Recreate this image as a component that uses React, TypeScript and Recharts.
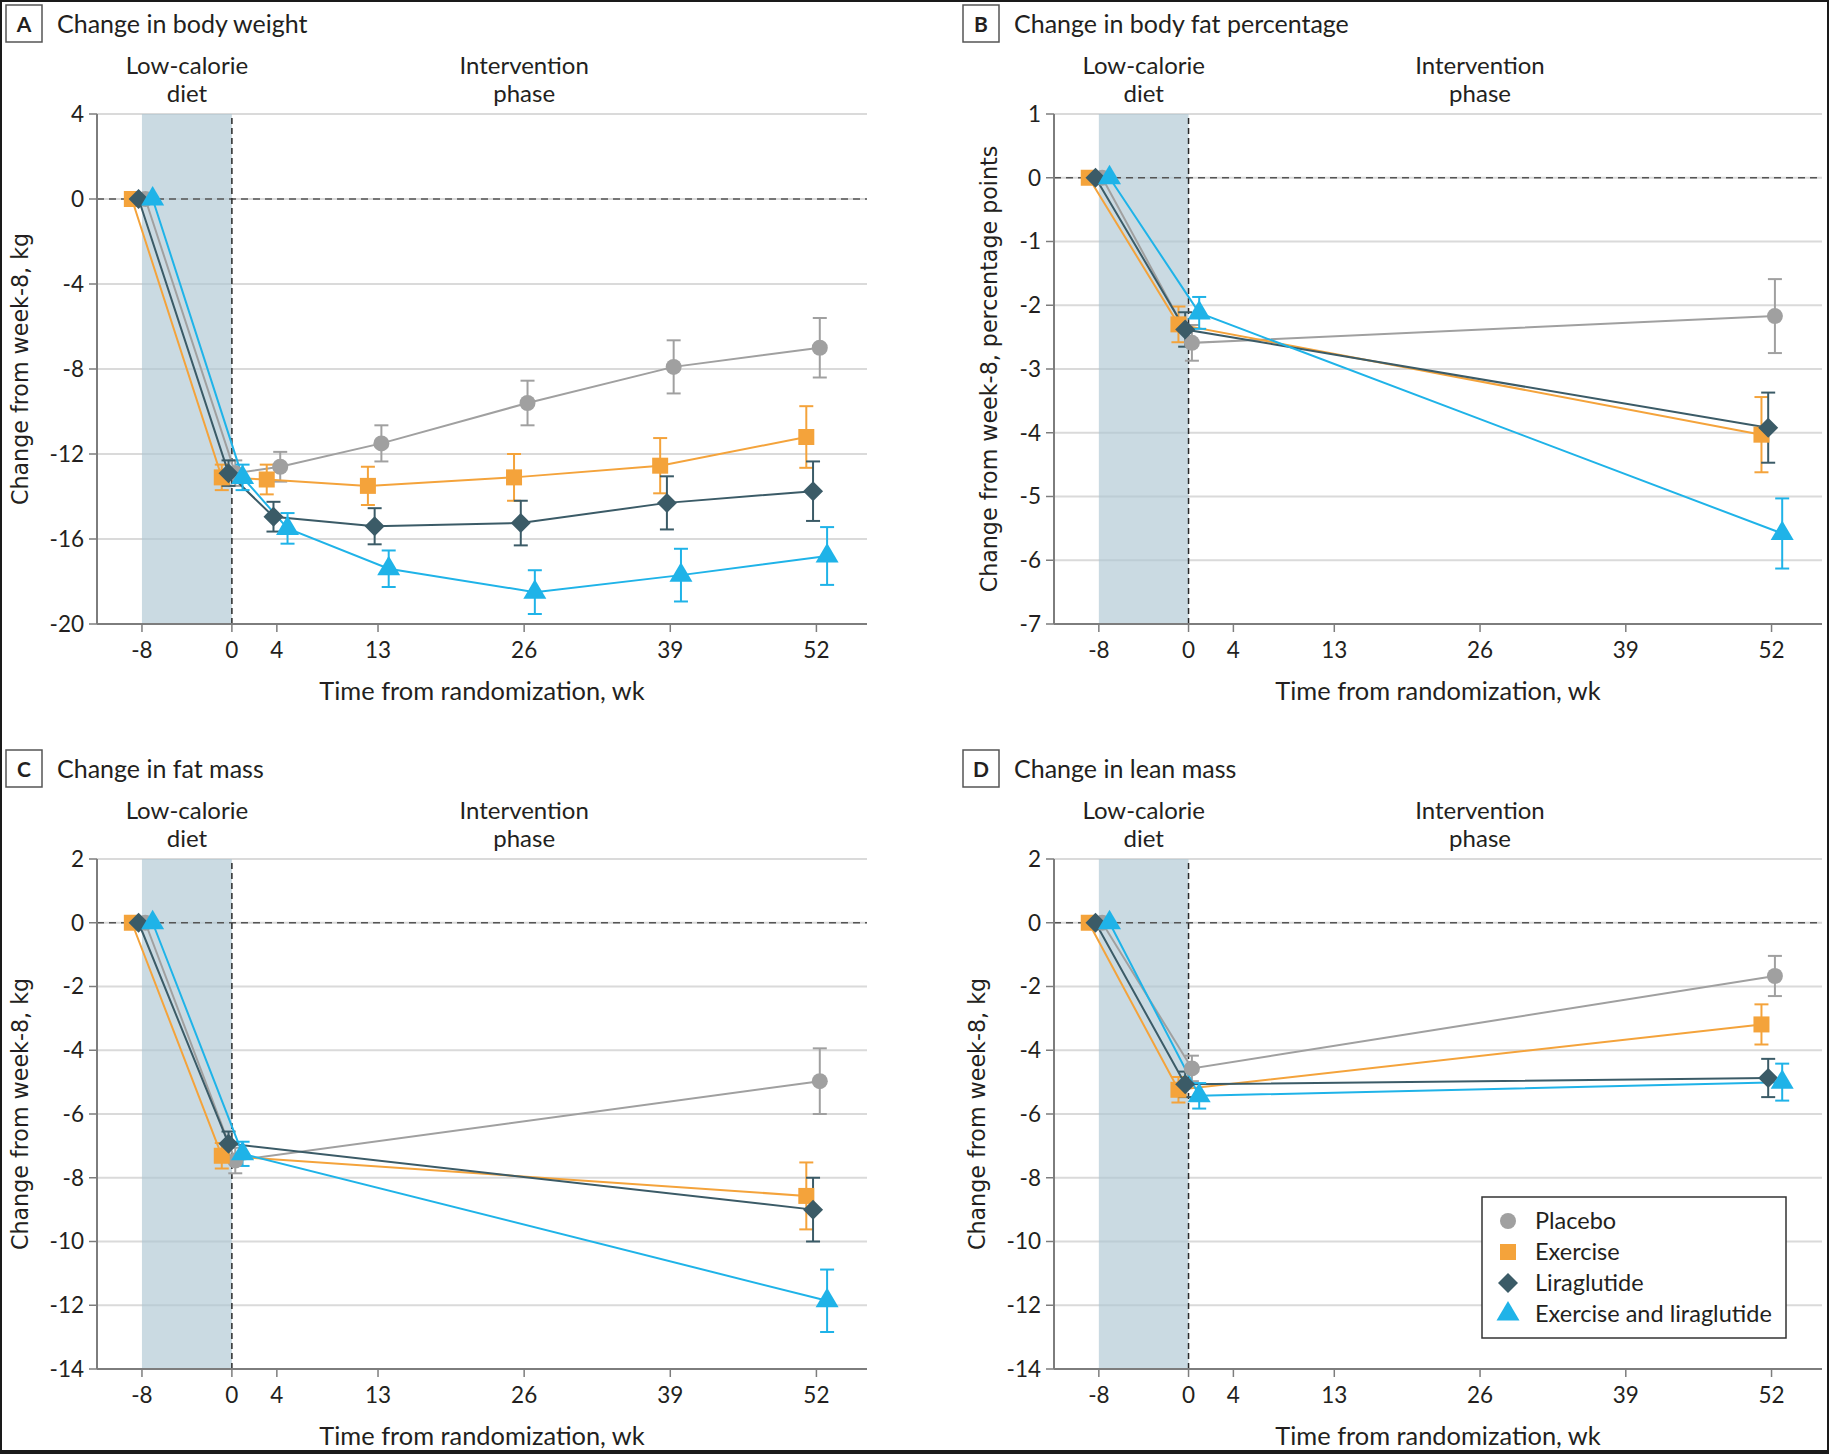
import React from "react";
import {
  LineChart,
  Line,
  XAxis,
  YAxis,
  CartesianGrid,
  ReferenceArea,
  ReferenceLine,
  ErrorBar,
  Label,
} from "recharts";

// weeks measured in each panel
const weeksA = [-8, 0, 4, 13, 26, 39, 52];
const weeksOther = [-8, 0, 52];
const xTicks = [-8, 0, 4, 13, 26, 39, 52];

// A: change in body weight, kg
const weightPlacebo = [0, -12.9, -12.6, -11.5, -9.6, -7.9, -7.0];
const weightPlaceboErr = [0, 0.6, 0.7, 0.85, 1.05, 1.25, 1.4];
const weightExercise = [0, -13.1, -13.2, -13.5, -13.1, -12.55, -11.2];
const weightExerciseErr = [0, 0.6, 0.7, 0.9, 1.1, 1.3, 1.45];
const weightLira = [0, -12.9, -14.95, -15.4, -15.25, -14.3, -13.75];
const weightLiraErr = [0, 0.6, 0.7, 0.85, 1.05, 1.25, 1.4];
const weightCombo = [0, -13.1, -15.5, -17.4, -18.5, -17.7, -16.8];
const weightComboErr = [0, 0.6, 0.72, 0.86, 1.03, 1.24, 1.36];

// B: change in body fat percentage, percentage points
const fatPctPlacebo = [0, -2.59, -2.17];
const fatPctPlaceboErr = [0, 0.28, 0.58];
const fatPctExercise = [0, -2.3, -4.03];
const fatPctExerciseErr = [0, 0.28, 0.59];
const fatPctLira = [0, -2.38, -3.92];
const fatPctLiraErr = [0, 0.27, 0.55];
const fatPctCombo = [0, -2.12, -5.58];
const fatPctComboErr = [0, 0.25, 0.55];

// C: change in fat mass, kg
const fatMassPlacebo = [0, -7.46, -4.97];
const fatMassPlaceboErr = [0, 0.4, 1.03];
const fatMassExercise = [0, -7.31, -8.57];
const fatMassExerciseErr = [0, 0.4, 1.05];
const fatMassLira = [0, -6.93, -9.0];
const fatMassLiraErr = [0, 0.38, 1.0];
const fatMassCombo = [0, -7.25, -11.86];
const fatMassComboErr = [0, 0.38, 0.98];

// D: change in lean mass, kg
const leanPlacebo = [0, -4.57, -1.67];
const leanPlaceboErr = [0, 0.4, 0.63];
const leanExercise = [0, -5.24, -3.19];
const leanExerciseErr = [0, 0.4, 0.63];
const leanLira = [0, -5.07, -4.87];
const leanLiraErr = [0, 0.4, 0.6];
const leanCombo = [0, -5.43, -5.0];
const leanComboErr = [0, 0.4, 0.58];

const SERIES = [
  { key: "placebo", name: "Placebo", color: "#a0a0a0", shape: "circle", dodge: 0.3 },
  { key: "exercise", name: "Exercise", color: "#f4a33b", shape: "square", dodge: -0.9 },
  { key: "lira", name: "Liraglutide", color: "#3b5b67", shape: "diamond", dodge: -0.3 },
  { key: "combo", name: "Exercise and liraglutide", color: "#1fb3e8", shape: "triangle", dodge: 0.95 },
];

const FONT = "Lato, 'Liberation Sans', sans-serif";
const TEXT = "#231f20";
const AXIS = "#7d7d7d";

function Marker({ cx, cy, shape, color }: any) {
  if (cx == null || cy == null) return null;
  if (shape === "circle") return <circle cx={cx} cy={cy} r={8} fill={color} />;
  if (shape === "square")
    return <rect x={cx - 8} y={cy - 8} width={16} height={16} fill={color} />;
  if (shape === "diamond")
    return (
      <polygon
        points={`${cx},${cy - 10} ${cx + 10},${cy} ${cx},${cy + 10} ${cx - 10},${cy}`}
        fill={color}
      />
    );
  return (
    <polygon
      points={`${cx},${cy - 13} ${cx + 11.5},${cy + 6.5} ${cx - 11.5},${cy + 6.5}`}
      fill={color}
    />
  );
}

interface PanelProps {
  letter: string;
  title: string;
  yLabel: string;
  yLabelX: number;
  yDomain: [number, number];
  yTicks: number[];
  weeks: number[];
  values: Record<string, number[]>;
  errs: Record<string, number[]>;
  left: number;
  top: number;
  width: number;
  height: number;
  legend?: boolean;
}

const Panel = (p: PanelProps) => {
  const plotTop = 114;
  const plotBottom = 624;
  const plotLeft = 97;
  const plotRight = p.width === 957 ? 867 : 865;
  const xAxisH = 60;
  const yAxisW = 80;
  const margin = {
    top: plotTop,
    left: plotLeft - yAxisW,
    right: p.width - plotRight,
    bottom: p.height - plotBottom - xAxisH,
  };

  return (
    <div
      style={{ position: "absolute", left: p.left, top: p.top, width: p.width, height: p.height }}
    >
      <LineChart width={p.width} height={p.height} margin={margin}>
        <CartesianGrid vertical={false} stroke="#dadada" strokeWidth={2} />
        <ReferenceArea x1={-8} x2={0} fill="#adc6d3" fillOpacity={0.65} stroke="none">
          <Label value="Low-calorie" position="top" offset={40} fontSize={24} fill={TEXT} />
          <Label value="diet" position="top" offset={12} fontSize={24} fill={TEXT} />
        </ReferenceArea>
        <ReferenceArea x1={13} x2={39} fillOpacity={0} stroke="none">
          <Label value="Intervention" position="top" offset={40} fontSize={24} fill={TEXT} />
          <Label value="phase" position="top" offset={12} fontSize={24} fill={TEXT} />
        </ReferenceArea>
        <ReferenceLine y={0} stroke="#555" strokeWidth={1.5} strokeDasharray="7 5" />
        <ReferenceLine x={0} stroke="#2a2a2a" strokeWidth={1.5} strokeDasharray="6 4" />
        <XAxis
          type="number"
          dataKey="x"
          domain={[-12, 56.5]}
          ticks={xTicks}
          interval={0}
          height={xAxisH}
          tickSize={8}
          tickMargin={10}
          axisLine={{ stroke: AXIS, strokeWidth: 2 }}
          tickLine={{ stroke: AXIS, strokeWidth: 1.5 }}
          tick={{ fontSize: 22.5, fill: TEXT }}
        >
          <Label
            value="Time from randomization, wk"
            position="insideBottom"
            offset={-16}
            fontSize={25.4}
            fill={TEXT}
          />
        </XAxis>
        <YAxis
          type="number"
          domain={p.yDomain}
          ticks={p.yTicks}
          interval={0}
          width={yAxisW}
          tickSize={8}
          tickMargin={5}
          axisLine={{ stroke: AXIS, strokeWidth: 2 }}
          tickLine={{ stroke: AXIS, strokeWidth: 1.5 }}
          tick={{ fontSize: 22.5, fill: TEXT }}
        />
        {SERIES.map((s) => {
          const rows = p.weeks.map((w, i) => ({
            x: w + s.dodge,
            y: p.values[s.key][i],
            e: p.errs[s.key][i],
          }));
          return (
            <Line
              key={s.key}
              data={rows}
              dataKey="y"
              name={s.name}
              type="linear"
              stroke={s.color}
              strokeWidth={2}
              activeDot={false}
              isAnimationActive={false}
              dot={(d: any) => (
                <Marker
                  key={`${s.key}-${d.index}`}
                  cx={d.cx}
                  cy={d.cy}
                  shape={s.shape}
                  color={s.color}
                />
              )}
            >
              <ErrorBar
                dataKey="e"
                direction="y"
                width={7}
                strokeWidth={2}
                stroke={s.color}
                isAnimationActive={false}
              />
            </Line>
          );
        })}
      </LineChart>

      <svg
        width={p.width}
        height={p.height}
        style={{ position: "absolute", left: 0, top: 0, pointerEvents: "none", overflow: "visible" }}
      >
        <rect x={6} y={5} width={36} height={37} fill="#fff" stroke="#555" strokeWidth={1.5} />
        <text x={24} y={32} textAnchor="middle" fontSize={21} fontWeight={700} fill={TEXT}>
          {p.letter}
        </text>
        <text x={57} y={33} fontSize={25} fill={TEXT}>
          {p.title}
        </text>
        <text
          x={p.yLabelX}
          y={(plotTop + plotBottom) / 2}
          transform={`rotate(-90 ${p.yLabelX} ${(plotTop + plotBottom) / 2})`}
          textAnchor="middle"
          dominantBaseline="central"
          fontFamily="'DejaVu Sans', sans-serif"
          fontSize={22.2}
          fill={TEXT}
        >
          {p.yLabel}
        </text>
        {p.legend && (
          <g>
            <rect x={525} y={452} width={304} height={141} fill="#fff" stroke="#333" strokeWidth={1.5} />
            {SERIES.map((s, i) => {
              const cy = 476 + i * 31;
              return (
                <g key={s.key}>
                  <Marker cx={551} cy={cy} shape={s.shape} color={s.color} />
                  <text x={578} y={cy + 8} fontSize={23.5} fill={TEXT}>
                    {s.name}
                  </text>
                </g>
              );
            })}
          </g>
        )}
      </svg>
    </div>
  );
};

const App = () => {
  return (
    <div
      style={{
        position: "absolute",
        left: 0,
        top: 0,
        width: 1829,
        height: 1454,
        background: "#fff",
        fontFamily: FONT,
        overflow: "hidden",
      }}
    >
      <Panel
        letter="A"
        title="Change in body weight"
        yLabel="Change from week-8, kg"
        yLabelX={20}
        yDomain={[-20, 4]}
        yTicks={[-20, -16, -12, -8, -4, 0, 4]}
        weeks={weeksA}
        values={{ placebo: weightPlacebo, exercise: weightExercise, lira: weightLira, combo: weightCombo }}
        errs={{ placebo: weightPlaceboErr, exercise: weightExerciseErr, lira: weightLiraErr, combo: weightComboErr }}
        left={0}
        top={0}
        width={957}
        height={745}
      />
      <Panel
        letter="B"
        title="Change in body fat percentage"
        yLabel="Change from week-8, percentage points"
        yLabelX={32}
        yDomain={[-7, 1]}
        yTicks={[-7, -6, -5, -4, -3, -2, -1, 0, 1]}
        weeks={weeksOther}
        values={{ placebo: fatPctPlacebo, exercise: fatPctExercise, lira: fatPctLira, combo: fatPctCombo }}
        errs={{ placebo: fatPctPlaceboErr, exercise: fatPctExerciseErr, lira: fatPctLiraErr, combo: fatPctComboErr }}
        left={957}
        top={0}
        width={872}
        height={745}
      />
      <Panel
        letter="C"
        title="Change in fat mass"
        yLabel="Change from week-8, kg"
        yLabelX={20}
        yDomain={[-14, 2]}
        yTicks={[-14, -12, -10, -8, -6, -4, -2, 0, 2]}
        weeks={weeksOther}
        values={{ placebo: fatMassPlacebo, exercise: fatMassExercise, lira: fatMassLira, combo: fatMassCombo }}
        errs={{ placebo: fatMassPlaceboErr, exercise: fatMassExerciseErr, lira: fatMassLiraErr, combo: fatMassComboErr }}
        left={0}
        top={745}
        width={957}
        height={709}
      />
      <Panel
        letter="D"
        title="Change in lean mass"
        yLabel="Change from week-8, kg"
        yLabelX={20}
        yDomain={[-14, 2]}
        yTicks={[-14, -12, -10, -8, -6, -4, -2, 0, 2]}
        weeks={weeksOther}
        values={{ placebo: leanPlacebo, exercise: leanExercise, lira: leanLira, combo: leanCombo }}
        errs={{ placebo: leanPlaceboErr, exercise: leanExerciseErr, lira: leanLiraErr, combo: leanComboErr }}
        left={957}
        top={745}
        width={872}
        height={709}
        legend
      />
      <div
        style={{
          position: "absolute",
          left: 0,
          top: 0,
          width: 1829,
          height: 1454,
          boxSizing: "border-box",
          borderStyle: "solid",
          borderColor: "#1a1a1a",
          borderWidth: "2px 2px 4px 2px",
          pointerEvents: "none",
        }}
      />
    </div>
  );
};

export default App;
